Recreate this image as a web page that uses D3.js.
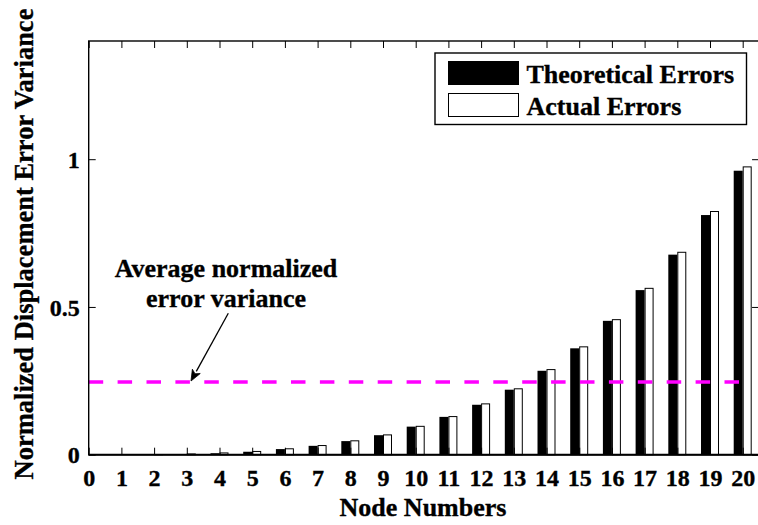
<!DOCTYPE html>
<html>
<head>
<meta charset="utf-8">
<script src="https://cdn.jsdelivr.net/npm/d3@7"></script>
<style>
  html, body { margin: 0; padding: 0; background: #fff; }
  svg { display: block; }
  text { font-family: "Liberation Serif", "Times New Roman", serif; font-weight: bold; fill: #000; stroke: #000; stroke-width: 0.35px; }
</style>
</head>
<body>
<svg id="chart" width="758" height="525"></svg>
<script>
// ---- data ----
const nodes = [1, 2, 3, 4, 5, 6, 7, 8, 9, 10, 11, 12, 13, 14, 15, 16, 17, 18, 19, 20];
const theoretical = [0, 0.0005, 0.002, 0.005, 0.010, 0.019, 0.030, 0.046, 0.066, 0.095, 0.128, 0.169, 0.220, 0.284, 0.360, 0.453, 0.557, 0.677, 0.811, 0.961];
const actual = [0, 0.0006, 0.0025, 0.006, 0.011, 0.020, 0.031, 0.047, 0.067, 0.096, 0.129, 0.172, 0.223, 0.288, 0.365, 0.457, 0.563, 0.685, 0.823, 0.974];
const averageVariance = 0.246;
const xTicks = [0, 1, 2, 3, 4, 5, 6, 7, 8, 9, 10, 11, 12, 13, 14, 15, 16, 17, 18, 19, 20];
const yTicks = [0, 0.5, 1];
const yTickLabels = ["0", "0.5", "1"];
const seriesNames = ["Theoretical Errors", "Actual Errors"];
const annotationLines = ["Average normalized", "error variance"];
const xTitle = "Node Numbers";
const yTitle = "Normalized Displacement Error Variance";

// ---- layout ----
const L = 88.7, T = 41, B = 454.7;
const svg = d3.select("#chart");
const x = d3.scaleLinear().domain([0, 20.5]).range([L, L + 20.5 * 32.7]);
const y = d3.scaleLinear().domain([0, 1.4]).range([B, T]);
const R = x(20.5);
const barW = x(0.275) - x(0);

// bars
const g = svg.append("g");
g.selectAll("rect.theo").data(nodes).join("rect")
  .attr("class", "theo")
  .attr("x", (d) => x(d) - barW)
  .attr("y", (d, i) => y(theoretical[i]))
  .attr("width", barW)
  .attr("height", (d, i) => B - y(theoretical[i]))
  .attr("fill", "#000");
g.selectAll("rect.act").data(nodes).join("rect")
  .attr("class", "act")
  .attr("x", (d) => x(d) + 0.5)
  .attr("y", (d, i) => y(actual[i]))
  .attr("width", barW - 1)
  .attr("height", (d, i) => Math.max(0, B - y(actual[i])))
  .attr("fill", "#fff")
  .attr("stroke", "#000")
  .attr("stroke-width", 1);

// average dashed line
svg.append("line")
  .attr("x1", x(0)).attr("x2", x(20))
  .attr("y1", y(averageVariance)).attr("y2", y(averageVariance))
  .attr("stroke", "#ff00ff")
  .attr("stroke-width", 3.5)
  .attr("stroke-dasharray", "14.5,14.4");

// frame
svg.append("rect")
  .attr("x", L).attr("y", T).attr("width", R - L).attr("height", B - T)
  .attr("fill", "none").attr("stroke", "#000").attr("stroke-width", 1.4);

// axes with inward ticks
const xAxisB = d3.axisBottom(x).tickValues(xTicks).tickSize(-7).tickPadding(16).tickFormat(d3.format("d"));
const gxb = svg.append("g").attr("transform", `translate(0,${B})`).call(xAxisB);
const xAxisT = d3.axisTop(x).tickValues(xTicks).tickSize(-7).tickFormat("");
const gxt = svg.append("g").attr("transform", `translate(0,${T})`).call(xAxisT);
const yAxisL = d3.axisLeft(y).tickValues(yTicks).tickSize(-7).tickPadding(9)
  .tickFormat((d, i) => yTickLabels[i]);
const gyl = svg.append("g").attr("transform", `translate(${L},0)`).call(yAxisL);
const yAxisR = d3.axisRight(y).tickValues(yTicks).tickSize(-7).tickFormat("");
const gyr = svg.append("g").attr("transform", `translate(${R},0)`).call(yAxisR);
[gxb, gxt, gyl, gyr].forEach((ax) => {
  ax.select(".domain").remove();
  ax.selectAll(".tick line").attr("stroke", "#000").attr("stroke-width", 1);
  ax.selectAll("text").attr("font-family", "Liberation Serif, Times New Roman, serif")
    .attr("font-weight", "bold").attr("font-size", 24).attr("fill", "#000");
});
gxb.selectAll("text").attr("dy", null).attr("y", 31);
gyl.selectAll("text").attr("dy", "0.34em");
// bottom axis baseline slightly heavier
svg.append("line").attr("x1", L).attr("x2", R).attr("y1", B).attr("y2", B)
  .attr("stroke", "#000").attr("stroke-width", 2);

// axis titles
svg.append("text")
  .attr("x", 423).attr("y", 516)
  .attr("text-anchor", "middle").attr("font-size", 26)
  .text(xTitle);
svg.append("text")
  .attr("transform", "translate(33,244) rotate(-90)")
  .attr("text-anchor", "middle").attr("font-size", 26.5)
  .text(yTitle);

// legend
const lg = svg.append("g");
lg.append("rect").attr("x", 435).attr("y", 53).attr("width", 311.5).attr("height", 71.5)
  .attr("fill", "#fff").attr("stroke", "#000").attr("stroke-width", 1.4);
lg.append("rect").attr("x", 448.5).attr("y", 61.5).attr("width", 70).attr("height", 23)
  .attr("fill", "#000").attr("stroke", "#000").attr("stroke-width", 1);
lg.append("rect").attr("x", 448.5).attr("y", 93.5).attr("width", 70).attr("height", 23)
  .attr("fill", "#fff").attr("stroke", "#000").attr("stroke-width", 1);
lg.selectAll("text.leg").data(seriesNames).join("text")
  .attr("class", "leg")
  .attr("x", 526.5)
  .attr("y", (d, i) => 83 + i * 32)
  .attr("font-size", 26)
  .text((d) => d);

// annotation
svg.selectAll("text.ann").data(annotationLines).join("text")
  .attr("class", "ann")
  .attr("x", 226)
  .attr("y", (d, i) => 277 + i * 30)
  .attr("text-anchor", "middle")
  .attr("font-size", 26)
  .text((d) => d);

// arrow
const ax0 = 228.3, ay0 = 313.3, ax1 = 191, ay1 = 381;
const ang = Math.atan2(ay1 - ay0, ax1 - ax0);
const hl = 11, hw = 4.5;
const bx = ax1 - hl * Math.cos(ang), by = ay1 - hl * Math.sin(ang);
svg.append("line").attr("x1", ax0).attr("y1", ay0).attr("x2", bx).attr("y2", by)
  .attr("stroke", "#000").attr("stroke-width", 1.3);
const px = -Math.sin(ang), py = Math.cos(ang);
const nx = ax1 - 0.75 * hl * Math.cos(ang), ny = ay1 - 0.75 * hl * Math.sin(ang);
svg.append("path")
  .attr("d", `M${ax1},${ay1}L${bx + px * hw},${by + py * hw}L${nx},${ny}L${bx - px * hw},${by - py * hw}Z`)
  .attr("fill", "#000").attr("stroke", "#000").attr("stroke-width", 0.8);
</script>
</body>
</html>
